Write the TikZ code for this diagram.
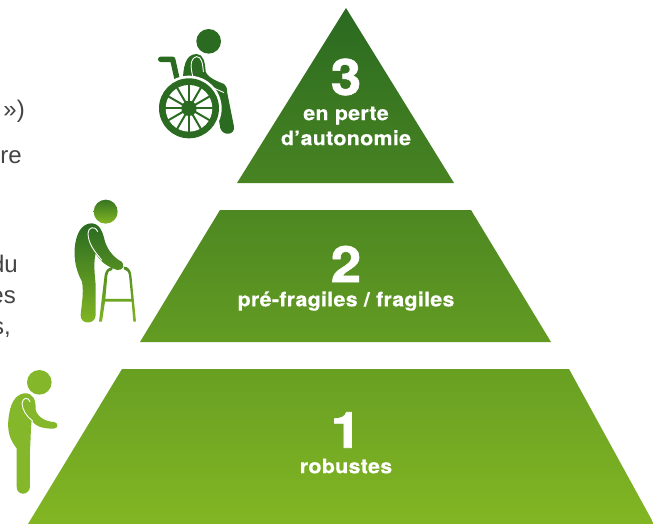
\documentclass[tikz,border=0pt]{standalone}
\usepackage{fontspec}
\setmainfont{Liberation Sans}
\newfontfamily\labelfont[BoldFont=* Bold,BoldFeatures={FakeStretch=1.07,LetterSpace=1.5,FakeBold=0.4}]{TeX Gyre Heros}
\newfontfamily\digitfont[BoldFont=* Bold,BoldFeatures={FakeStretch=1.1,FakeBold=1.2}]{TeX Gyre Heros}
\definecolor{gtop}{HTML}{2A6A21}
\definecolor{gbot}{HTML}{82B623}
\definecolor{chair}{HTML}{2B6B21}
\definecolor{robust}{HTML}{84B82A}
\definecolor{bodytxt}{HTML}{444444}
\tikzset{
  numlabel/.style={text=white,font=\digitfont\bfseries\fontsize{50}{50}\selectfont,inner sep=0pt},
  tierlabel/.style={text=white,font=\labelfont\bfseries\fontsize{20}{25}\selectfont,inner sep=0pt,align=center},
  cuttext/.style={text=bodytxt,font=\fontsize{24}{24}\selectfont,inner sep=0pt,anchor=base east},
  zoomA/.style={shift={(140,0)},x=0.3333pt,y=-0.3333pt},
  zoomB/.style={shift={(60,190)},x=0.3333pt,y=-0.3333pt},
  zoomC/.style={shift={(0,360)},x=0.3333pt,y=-0.3333pt},
}
\begin{document}
\begin{tikzpicture}[x=1pt,y=-1pt]
\useasboundingbox (0,0) rectangle (653,524);
\fill[white] (0,0) rectangle (653,524);
% pyramid: one gradient over the full height
\begin{scope}
  \clip (346,8) -- (454,183) -- (237,183) -- cycle
        (220,210) -- (471,210) -- (551,342) -- (140,342) -- cycle
        (122,369) -- (569,369) -- (654,524) -- (28,524) -- cycle;
  \shade[top color=gtop,bottom color=gbot] (0,8) rectangle (653,524);
\end{scope}
\node[numlabel] (n3) at (346,77) {3};
\node[tierlabel] (t3) at (346,126) {en perte\\d’autonomie};
\node[numlabel] (n2) at (346,264) {2};
\node[tierlabel] (t2) at (346,301) {pré-fragiles / fragiles};
\node[numlabel] (n1) at (346,430) {1};
\node[tierlabel] (t1) at (346,466) {robustes};
% cut-off body text
\node[cuttext] (l1) at (25,118) {»)};
\node[cuttext] (l2) at (22,164) {re};
\node[cuttext] (l3) at (18,272) {du};
\node[cuttext] (l4) at (16,303) {es};
\node[cuttext] (l5) at (11,334) {s,};
% wheelchair user
\begin{scope}[zoomA]
  \fill[chair] (206,124) circle (37);
  \draw[chair,line width=5.4pt,line cap=round,line join=round] (62,178) -- (98,178) -- (113,245);
  \fill[chair] (128,250) .. controls (130,200) and (135,163) .. (170,162)
     .. controls (190,163) and (195,185) .. (197,215)
     .. controls (205,235) and (235,245) .. (252,252)
     .. controls (262,262) and (262,270) .. (262,280)
     -- (282,380) .. controls (285,405) and (250,410) .. (241,385)
     -- (225,290) -- cycle;
  \draw[white,line width=0.9pt,line cap=round] (160,235) .. controls (150,200) and (150,175) .. (170,170)
     .. controls (185,170) and (188,190) .. (190,215);
  \draw[white,line width=0.9pt] (175,235) .. controls (195,255) and (225,265) .. (252,278);
  \fill[white] (147,325) circle (98);
  \fill[chair] (147,325) circle (90);
  \fill[white] (147,325) circle (70);
  \foreach \a in {0,30,...,330} \draw[chair,line width=2pt] (147,325) -- ++(\a:72);
  \fill[chair] (147,325) circle (23);
\end{scope}
% person with walker: head
\begin{scope}[zoomB]
  \clip (137,65) circle (36);
  \shade[top color=gtop!85!gbot,bottom color=gbot] (90,29) rectangle (180,101);
\end{scope}
% person with walker: body and walker
\begin{scope}[zoomB]
  \clip (95,100) .. controls (120,102) and (128,125) .. (135,155)
     .. controls (145,185) and (165,205) .. (185,215)
     .. controls (195,225) and (190,242) .. (172,240)
     .. controls (145,232) and (120,215) .. (107,190)
     .. controls (100,220) and (104,250) .. (107,285)
     -- (107,375) .. controls (107,405) and (60,405) .. (62,375)
     .. controls (65,340) and (72,310) .. (66,275)
     .. controls (50,245) and (42,215) .. (44,175)
     .. controls (48,130) and (65,100) .. (95,100) -- cycle
     (117,395) -- (134,255) .. controls (137,240) and (145,232) .. (157,233) -- (157,240)
     .. controls (148,240) and (144,245) .. (142,257) -- (136,327) -- (214,327) -- (207,255)
     .. controls (205,245) and (200,240) .. (192,238) -- (192,230)
     .. controls (205,230) and (212,240) .. (214,255) -- (228,395) -- (220,395) -- (215,335)
     -- (135,335) -- (126,395) -- cycle;
  \shade[top color=gtop,bottom color=gbot] (30,100) rectangle (240,400);
\end{scope}
\begin{scope}[zoomB]
  \draw[white,line width=0.9pt,line cap=round] (125,210) .. controls (100,180) and (85,160) .. (84,130)
     .. controls (84,112) and (105,105) .. (113,125);
\end{scope}
% robust person
\begin{scope}[zoomC]
  \fill[robust] (118,67) circle (37);
  \fill[robust] (72,100) .. controls (100,98) and (108,120) .. (107,150)
     .. controls (115,175) and (140,185) .. (163,186)
     .. controls (177,190) and (175,206) .. (160,206)
     .. controls (130,206) and (105,200) .. (95,180)
     .. controls (92,210) and (92,240) .. (90,270)
     -- (90,380) .. controls (88,408) and (50,408) .. (50,380)
     -- (50,265) .. controls (30,240) and (22,215) .. (25,180)
     .. controls (30,130) and (45,105) .. (72,100) -- cycle;
  \draw[white,line width=0.9pt,line cap=round] (98,183) .. controls (80,170) and (67,150) .. (66,130)
     .. controls (68,112) and (85,110) .. (90,125);
\end{scope}
\end{tikzpicture}
\end{document}
